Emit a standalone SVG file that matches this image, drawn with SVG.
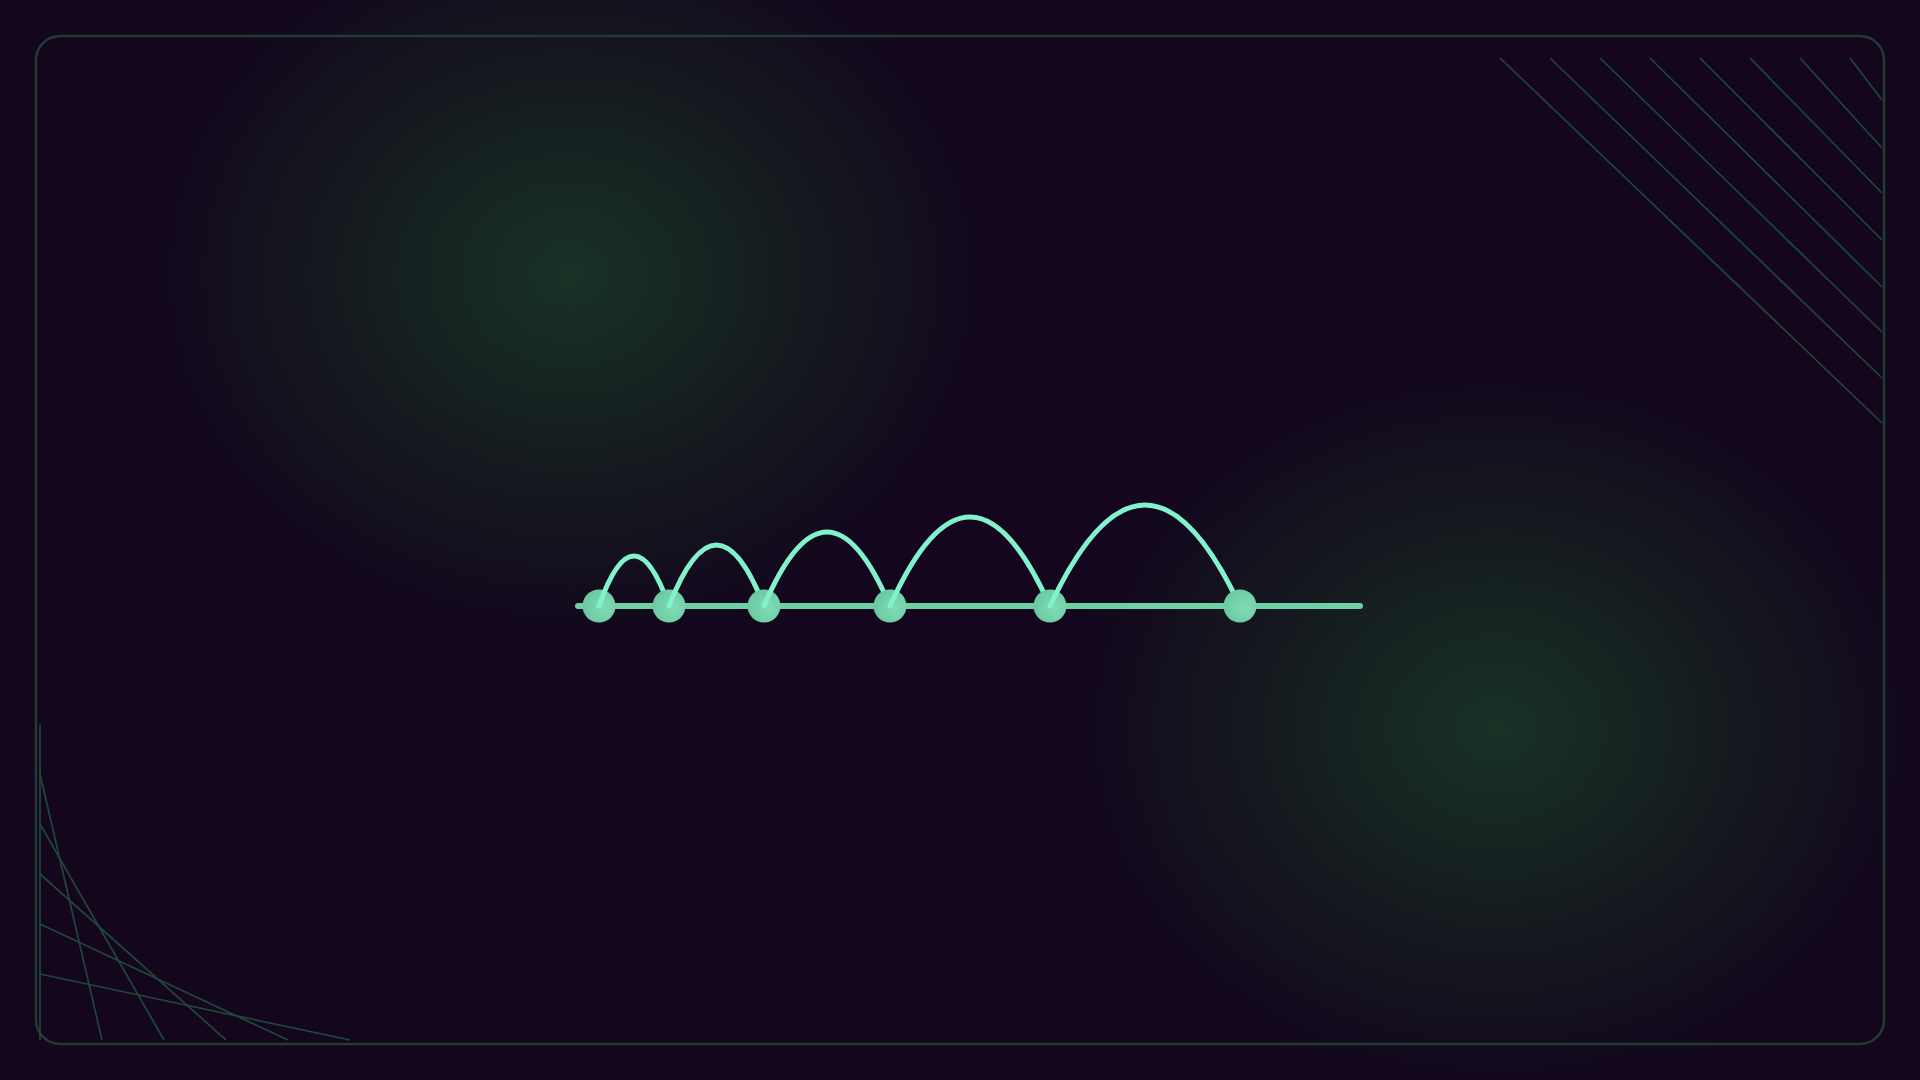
<svg xmlns="http://www.w3.org/2000/svg" width="1920" height="1080" viewBox="0 0 1920 1080">
<defs>
<radialGradient id="glow" cx="0.5" cy="0.5" r="0.5">
<stop offset="0" stop-color="#183226" stop-opacity="1"/>
<stop offset="0.35" stop-color="#172a22" stop-opacity="0.75"/>
<stop offset="0.7" stop-color="#15201e" stop-opacity="0.4"/>
<stop offset="1" stop-color="#13061d" stop-opacity="0"/>
</radialGradient>
<radialGradient id="nodeFill" cx="0.65" cy="0.55" r="0.6">
<stop offset="0" stop-color="#7fdcb5"/>
<stop offset="1" stop-color="#6ccaa3"/>
</radialGradient>
<clipPath id="frameClip"><rect x="36" y="36" width="1848" height="1008" rx="24"/></clipPath>
<style>
.frame{fill:none;stroke:#1f3d34;stroke-width:2.5}
.deco{stroke:#20473a;stroke-width:1.7;fill:none}
.base{stroke:#6fcfa5;stroke-width:6;stroke-linecap:round;fill:none}
.arc{stroke:#82f2cc;stroke-width:5;stroke-linecap:round;fill:none}
.node{fill:url(#nodeFill)}
</style>
</defs>
<rect width="1920" height="1080" fill="#13061d"/>
<ellipse cx="570" cy="275" rx="480" ry="410" fill="url(#glow)"/>
<ellipse cx="1496" cy="729" rx="480" ry="410" fill="url(#glow)"/>
<g id="frame">
<rect class="frame" x="36" y="36" width="1848" height="1008" rx="24"/>
</g>
<g id="hatch" class="deco" clip-path="url(#frameClip)">
<line x1="1500" y1="58" x2="1882" y2="423"/>
<line x1="1550" y1="58" x2="1882" y2="378"/>
<line x1="1600" y1="58" x2="1882" y2="332"/>
<line x1="1650" y1="58" x2="1882" y2="287"/>
<line x1="1700" y1="58" x2="1882" y2="240"/>
<line x1="1750" y1="58" x2="1882" y2="193"/>
<line x1="1800" y1="58" x2="1882" y2="148"/>
<line x1="1850" y1="58" x2="1882" y2="100"/>
</g>
<g id="string-art" class="deco">
<line x1="40" y1="724" x2="40" y2="1040"/>
<line x1="40" y1="774" x2="102" y2="1040"/>
<line x1="40" y1="824" x2="164" y2="1040"/>
<line x1="40" y1="874" x2="226" y2="1040"/>
<line x1="40" y1="924" x2="288" y2="1040"/>
<line x1="40" y1="974" x2="350" y2="1040"/>
</g>
<g id="connectors">
<line class="base" x1="578" y1="606" x2="1360" y2="606"/>
</g>
<g id="node-1"><circle class="node" cx="599" cy="606" r="16.5"/></g>
<g id="edge-1"><path class="arc" d="M599 606 Q634 506 669 606"/></g>
<g id="node-2"><circle class="node" cx="669" cy="606" r="16.5"/></g>
<g id="edge-2"><path class="arc" d="M669 606 Q716.5 484 764 606"/></g>
<g id="node-3"><circle class="node" cx="764" cy="606" r="16.5"/></g>
<g id="edge-3"><path class="arc" d="M764 606 Q827 458 890 606"/></g>
<g id="node-4"><circle class="node" cx="890" cy="606" r="16.5"/></g>
<g id="edge-4"><path class="arc" d="M890 606 Q970 428 1050 606"/></g>
<g id="node-5"><circle class="node" cx="1050" cy="606" r="16.5"/></g>
<g id="edge-5"><path class="arc" d="M1050 606 Q1145 404 1240 606"/></g>
<g id="node-6"><circle class="node" cx="1240" cy="606" r="16.5"/></g>
</svg>
